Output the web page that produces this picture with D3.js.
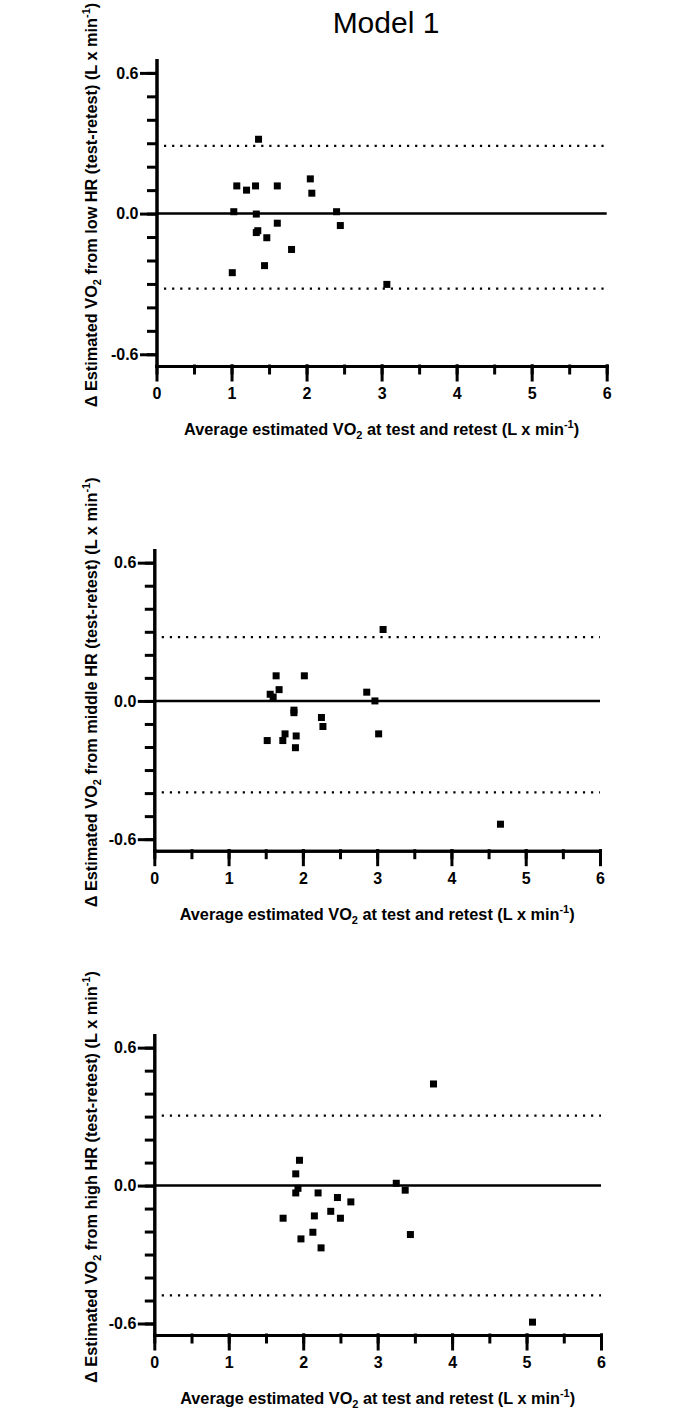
<!DOCTYPE html>
<html>
<head>
<meta charset="utf-8">
<script src="https://cdnjs.cloudflare.com/ajax/libs/d3/7.8.5/d3.min.js"></script>
<style>
  body { margin: 0; background: #fff; }
  text { font-family: "Liberation Sans", Arial, sans-serif; }
</style>
</head>
<body>
<div id="svganchor"></div>
<script>
// Measurement
var w = 700, h = 1411;

// Data
var xTicks = [0, 1, 2, 3, 4, 5, 6];
var yTicks = [-0.6, 0, 0.6];
var yTickLabels = ["-0.6", "0.0", "0.6"];

var avgLow  = [1.36, 1.07, 1.20, 1.32, 1.61, 2.05, 2.07, 1.03, 1.33, 2.40, 1.61, 2.45, 1.33, 1.35, 1.47, 1.80, 1.44, 1.01, 3.07];
var diffLow = [0.317, 0.118, 0.100, 0.118, 0.118, 0.148, 0.087, 0.008, -0.002, 0.008, -0.041, -0.051, -0.081, -0.073, -0.103, -0.153, -0.222, -0.252, -0.302];
var limitsLow = [0.289, -0.320];

var avgMid  = [1.64, 2.02, 1.56, 1.60, 1.68, 1.88, 1.88, 2.25, 2.27, 1.52, 1.73, 1.76, 1.91, 1.90, 2.86, 2.97, 3.02, 3.08, 4.66];
var diffMid = [0.109, 0.109, 0.029, 0.017, 0.049, -0.040, -0.051, -0.072, -0.111, -0.172, -0.172, -0.143, -0.152, -0.203, 0.038, 0.000, -0.143, 0.310, -0.535];
var limitsMid = [0.277, -0.397];

var avgHigh  = [1.95, 1.90, 1.93, 1.90, 2.20, 2.46, 2.64, 1.73, 2.15, 2.37, 2.50, 2.13, 1.97, 2.24, 3.25, 3.37, 3.44, 3.75, 5.08];
var diffHigh = [0.110, 0.051, -0.012, -0.032, -0.032, -0.052, -0.071, -0.142, -0.132, -0.112, -0.142, -0.203, -0.232, -0.271, 0.010, -0.020, -0.213, 0.442, -0.594];
var limitsHigh = [0.304, -0.478];

var hrNames = ["low", "middle", "high"];

// Panel layout: [left, right, top, bottom]
var boxes = [
  [156.5, 606.7, 60, 366],
  [154.3, 600, 550, 850.7],
  [154.3, 601, 1035, 1335]
];

var panels = [
  { xs: avgLow,  ys: diffLow,  lim: limitsLow,  hr: hrNames[0], box: boxes[0] },
  { xs: avgMid,  ys: diffMid,  lim: limitsMid,  hr: hrNames[1], box: boxes[1] },
  { xs: avgHigh, ys: diffHigh, lim: limitsHigh, hr: hrNames[2], box: boxes[2] }
];

var svg = d3.select("#svganchor")
  .append("svg")
  .attr("width", w)
  .attr("height", h);

svg.append("text")
  .attr("x", 386)
  .attr("y", 33)
  .attr("text-anchor", "middle")
  .attr("font-size", 30)
  .attr("fill", "#000")
  .text("Model 1");

panels.forEach(function(p) {
  var left = p.box[0], right = p.box[1], top = p.box[2], bottom = p.box[3];

  var xScale = d3.scaleLinear().domain([0, 6]).range([left, right]);
  var yScale = d3.scaleLinear().domain([-0.65, 0.655]).range([bottom, top]);

  var g = svg.append("g");

  // limits of agreement
  g.selectAll(".limit")
    .data(p.lim)
    .enter()
    .append("line")
    .attr("x1", xScale(0.1))
    .attr("x2", xScale(6))
    .attr("y1", function(d) { return yScale(d); })
    .attr("y2", function(d) { return yScale(d); })
    .attr("stroke", "#000")
    .attr("stroke-width", 2.2)
    .attr("stroke-dasharray", "2.2,5.9");

  // zero line
  g.append("line")
    .attr("x1", xScale(0))
    .attr("x2", xScale(6))
    .attr("y1", yScale(0))
    .attr("y2", yScale(0))
    .attr("stroke", "#000")
    .attr("stroke-width", 2.5);

  // points
  var pts = p.xs.map(function(x, i) { return { x: x, y: p.ys[i] }; });
  g.selectAll(".pt")
    .data(pts)
    .enter()
    .append("rect")
    .attr("x", function(d) { return xScale(d.x) - 3.5; })
    .attr("y", function(d) { return yScale(d.y) - 3.5; })
    .attr("width", 7)
    .attr("height", 7)
    .attr("fill", "#000");

  // y axis: minor then major
  var yMinor = d3.axisLeft(yScale)
    .tickValues(d3.range(-6, 7).map(function(d) { return d / 10; }))
    .tickSizeInner(8)
    .tickSizeOuter(0)
    .tickFormat("");
  var yMajor = d3.axisLeft(yScale)
    .tickValues(yTicks)
    .tickSizeInner(15)
    .tickSizeOuter(0)
    .tickPadding(3)
    .tickFormat(function(d, i) { return yTickLabels[i]; });

  g.append("g").attr("transform", "translate(" + left + ",0)").call(yMinor);
  g.append("g").attr("transform", "translate(" + left + ",0)").call(yMajor);

  // x axis
  var xMinor = d3.axisBottom(xScale)
    .tickValues(d3.range(0, 13).map(function(d) { return d / 2; }))
    .tickSizeInner(7)
    .tickSizeOuter(0)
    .tickFormat("");
  var xMajor = d3.axisBottom(xScale)
    .tickValues(xTicks)
    .tickSizeInner(14)
    .tickSizeOuter(0)
    .tickPadding(8)
    .tickFormat(d3.format("d"));

  g.append("g").attr("transform", "translate(0," + bottom + ")").call(xMinor);
  g.append("g").attr("transform", "translate(0," + bottom + ")").call(xMajor);

  g.selectAll(".domain, .tick line")
    .attr("stroke", "#000")
    .attr("stroke-width", 3)
    .attr("stroke-linecap", "square");
  g.selectAll(".tick text")
    .attr("font-family", "Liberation Sans, Arial, sans-serif")
    .attr("font-size", 16)
    .attr("font-weight", "bold")
    .attr("fill", "#000");

  // x title
  var xt = g.append("text")
    .attr("x", (left + right) / 2)
    .attr("y", bottom + 69)
    .attr("text-anchor", "middle")
    .attr("font-size", 16.3)
    .attr("font-weight", "bold");
  xt.append("tspan").text("Average estimated VO");
  xt.append("tspan").attr("font-size", 11).attr("dy", 4).text("2");
  xt.append("tspan").attr("dy", -4).text(" at test and retest (L x min");
  xt.append("tspan").attr("font-size", 11).attr("dy", -7).text("-1");
  xt.append("tspan").attr("dy", 7).text(")");

  // y title
  var yt = g.append("text")
    .attr("transform", "translate(97," + ((top + bottom) / 2 - 8) + ") rotate(-90)")
    .attr("text-anchor", "middle")
    .attr("font-size", 16.3)
    .attr("font-weight", "bold");
  yt.append("tspan").text("\u0394 Estimated VO");
  yt.append("tspan").attr("font-size", 11).attr("dy", 4).text("2");
  yt.append("tspan").attr("dy", -4).text(" from " + p.hr + " HR (test-retest) (L x min");
  yt.append("tspan").attr("font-size", 11).attr("dy", -7).text("-1");
  yt.append("tspan").attr("dy", 7).text(")");
});
</script>
</body>
</html>
